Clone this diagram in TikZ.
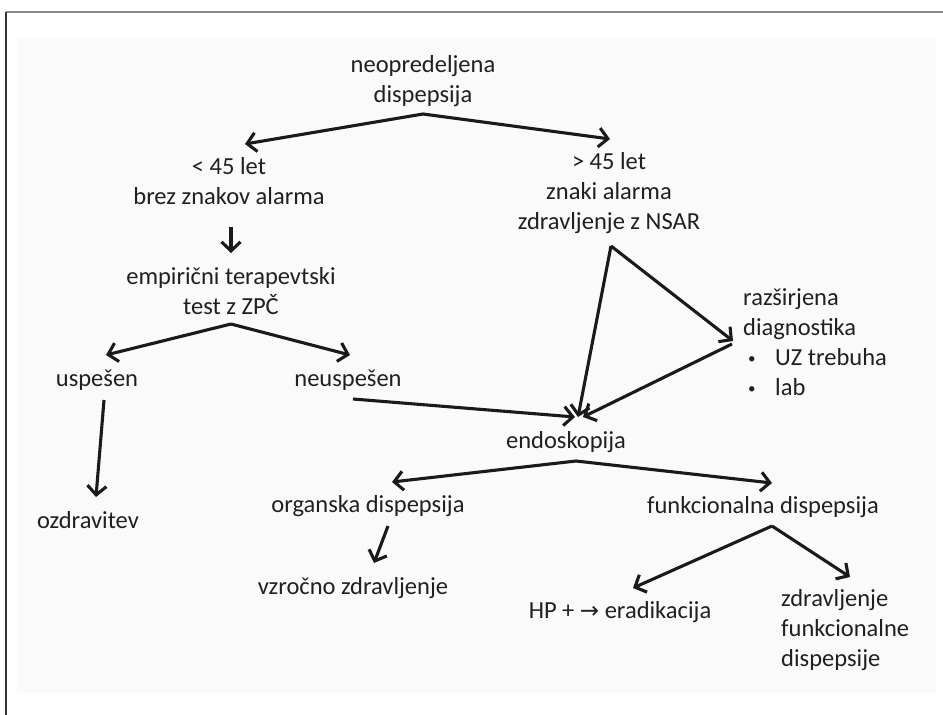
\documentclass[tikz,border=0pt]{standalone}
\usepackage{fontspec}
\setmainfont{Carlito}
\newfontfamily\arrfont{DejaVu Sans}
\usetikzlibrary{arrows.meta}
\definecolor{txt}{HTML}{202020}
\definecolor{arr}{HTML}{1A1A1A}
\definecolor{bgc}{HTML}{FAFAFA}
\definecolor{frametop}{HTML}{8A8A8A}
\definecolor{frameleft}{HTML}{333333}
\newcommand{\smallbul}{\hspace*{5pt}\makebox[27pt][l]{\raisebox{2pt}{\fontsize{15}{15}\selectfont•}}}
\begin{document}
\begin{tikzpicture}[x=1pt,y=-1pt,
  lbl/.style={font=\fontsize{24.5}{30}\selectfont, text=txt, inner sep=0pt, align=center},
  lbll/.style={lbl, align=left, anchor=west},
  conn/.style={draw=arr, line width=3.1pt, -{Straight Barb[length=9pt,width=19pt]}}]
\useasboundingbox (0,0) rectangle (943,715);
\fill[white] (0,0) rectangle (943,715);
\fill[bgc] (17,38) rectangle (936,693);
\draw[frametop, line width=1.5pt] (6,12) -- (943,12);
\draw[frameleft, line width=1.8pt] (6,12) -- (6,715);

\node[lbl] (top) at (423,81) {neopredeljena\\dispepsija};
\node[lbl] (lt) at (229,181) {< 45 let\\brez znakov alarma};
\node[lbl] (rt) at (609,193) {> 45 let\\znaki alarma\\zdravljenje z NSAR};
\node[lbl] (emp) at (231,291) {empirični terapevtski\\test z ZPČ};
\node[lbl] (usp) at (97,380) {uspešen};
\node[lbl] (neusp) at (348,380) {neuspešen};
\node[lbl] (ozd) at (88,520) {ozdravitev};
\node[lbll] (raz) at (743,342) {razširjena\\diagnostika\\\smallbul UZ trebuha\\\smallbul lab};
\node[lbl] (endo) at (566,442) {endoskopija};
\node[lbl] (org) at (368,506) {organska dispepsija};
\node[lbl] (fun) at (763,507) {funkcionalna dispepsija};
\node[lbl] (vzr) at (353,588) {vzročno zdravljenje};
\node[lbl] (hp) at (620,612) {HP + {\arrfont\fontsize{23}{30}\selectfont →} eradikacija};
\node[lbll] (zdr) at (781,630) {zdravljenje\\funkcionalne\\dispepsije};

\draw[conn] ([shift={(0,33)}]top.center) -- ([shift={(16,-37)}]lt.center);
\draw[conn] ([shift={(0,33)}]top.center) -- ([shift={(1,-54)}]rt.center);
\draw[conn] ([shift={(2,46)}]lt.center) -- ([shift={(0,-38)}]emp.center);
\draw[conn] ([shift={(0,33)}]emp.center) -- ([shift={(9,-25)}]usp.center);
\draw[conn] ([shift={(0,33)}]emp.center) -- ([shift={(2,-25)}]neusp.center);
\draw[conn] ([shift={(7,20)}]usp.center) -- ([shift={(8,-23)}]ozd.center);
\draw[conn] ([shift={(2,53)}]rt.center) -- ([shift={(12,-25)}]endo.center);
\draw[conn] ([shift={(2,53)}]rt.center) -- ([shift={(-10,-1)}]raz.west);
\draw[conn] ([shift={(-11,2)}]raz.west) -- ([shift={(17,-25)}]endo.center);
\draw[conn] ([shift={(5,19)}]neusp.center) -- ([shift={(9,-25)}]endo.center);
\draw[conn] ([shift={(10,19)}]endo.center) -- ([shift={(24,-24)}]org.center);
\draw[conn] ([shift={(10,19)}]endo.center) -- ([shift={(9,-24)}]fun.center);
\draw[conn] ([shift={(20,20)}]org.center) -- ([shift={(21,-25)}]vzr.center);
\draw[conn] ([shift={(9,19)}]fun.center) -- ([shift={(13,-24)}]hp.center);
\draw[conn] ([shift={(9,19)}]fun.center) -- ([shift={(69,-53)}]zdr.west);
\end{tikzpicture}
\end{document}
